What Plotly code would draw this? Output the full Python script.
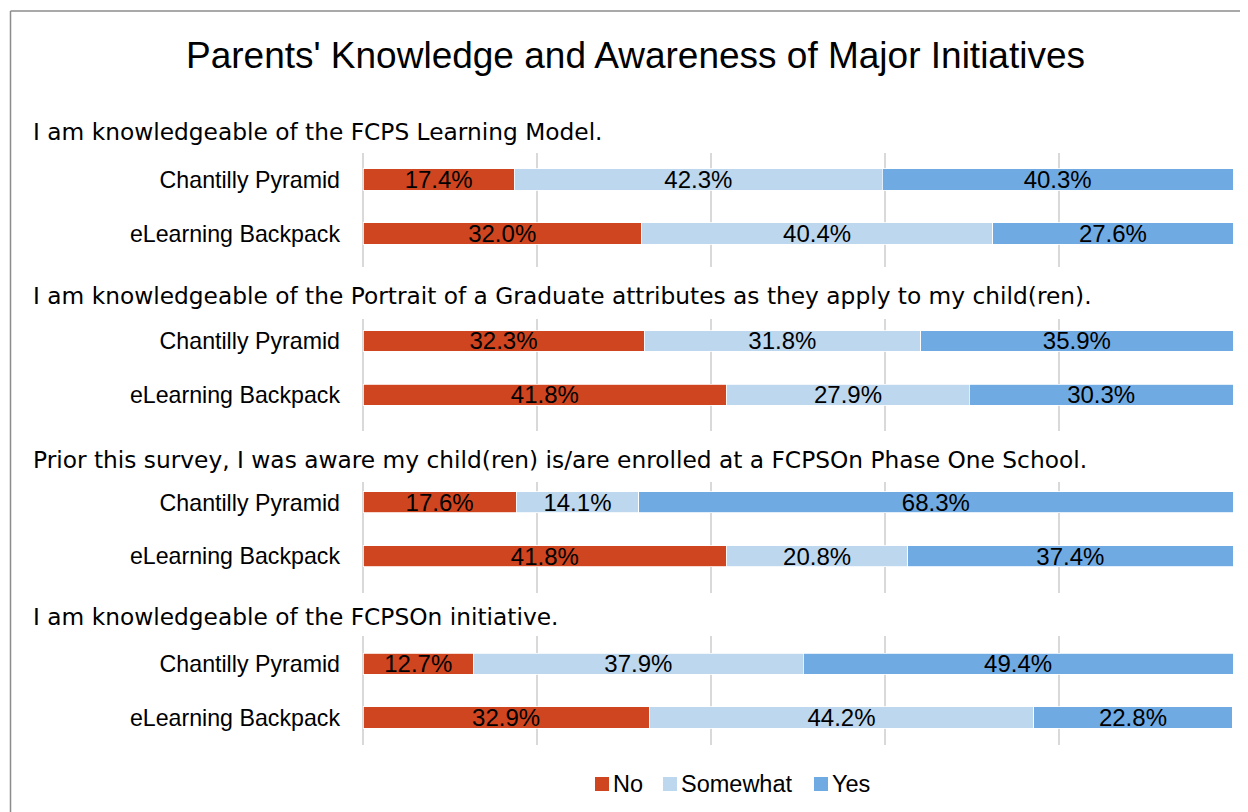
import plotly.graph_objects as go

questions = [
    "I am knowledgeable of the FCPS Learning Model.",
    "I am knowledgeable of the Portrait of a Graduate attributes as they apply to my child(ren).",
    "Prior this survey, I was aware my child(ren) is/are enrolled at a FCPSOn Phase One School.",
    "I am knowledgeable of the FCPSOn initiative.",
]
groups = ["Chantilly Pyramid", "eLearning Backpack"]
series = ["No", "Somewhat", "Yes"]
no_vals = [[17.4, 32.0], [32.3, 41.8], [17.6, 41.8], [12.7, 32.9]]
somewhat_vals = [[42.3, 40.4], [31.8, 27.9], [14.1, 20.8], [37.9, 44.2]]
yes_vals = [[40.3, 27.6], [35.9, 30.3], [68.3, 37.4], [49.4, 22.8]]
colors = ["#CF4520", "#BDD7EE", "#70AAE3"]

OFF = 8                      # page offset of the figure (body margin)
W, H = 1248 - OFF, 812 - OFF
L, R = 363, 1233             # plot area in page pixels


def px(x):
    return (x - L) / (R - L)


def py(y):
    return 1 - (y - OFF) / H


# per-section layout: (grid top px, grid bottom px, y-range top, y-range bottom)
sections = [
    (153, 267, -0.49, 1.62),
    (319, 431, -0.41, 1.68),
    (482, 593, -0.38, 1.68),
    (636, 745, -0.51, 1.51),
]
header_y = [131, 296, 459, 616]
legend_sq_x = [595, 663, 814]

fig = go.Figure()
all_vals = [no_vals, somewhat_vals, yes_vals]
for qi in range(4):
    for si, name in enumerate(series):
        vals = all_vals[si][qi]
        fig.add_trace(go.Bar(
            x=vals,
            y=[0, 1],
            orientation="h",
            name=name,
            showlegend=False,
            marker=dict(color=colors[si], line=dict(color="white", width=0.8)),
            width=0.39,
            text=[f"{v:.1f}%" for v in vals],
            textposition="inside",
            insidetextanchor="middle",
            constraintext="none",
            textangle=0,
            textfont=dict(family="Liberation Sans, Arial", size=24, color="black"),
            xaxis=f"x{qi + 1 if qi else ''}",
            yaxis=f"y{qi + 1 if qi else ''}",
            hoverinfo="skip",
        ))

layout = dict(
    width=W, height=H,
    margin=dict(l=L - OFF, r=1248 - R, t=0, b=0),
    paper_bgcolor="white", plot_bgcolor="white",
    barmode="stack",
    showlegend=False,
    font=dict(family="Liberation Sans, Arial", color="black"),
)
for qi, (gt, gb, rt, rb) in enumerate(sections):
    sfx = str(qi + 1) if qi else ""
    layout["xaxis" + sfx] = dict(
        domain=[0, 1], range=[0, 100], anchor="y" + sfx,
        tickvals=[0, 20, 40, 60, 80, 100], showticklabels=False,
        showgrid=True, gridcolor="#D9D9D9", gridwidth=1.5,
        zeroline=True, zerolinecolor="#D9D9D9", zerolinewidth=1.5,
        showline=False, fixedrange=True,
    )
    layout["yaxis" + sfx] = dict(
        domain=[py(gb), py(gt)], range=[rb, rt], anchor="x" + sfx,
        tickvals=[0, 1], ticktext=groups, ticks="", ticklabelstandoff=22,
        tickfont=dict(family="Liberation Sans, Arial", size=23.2, color="black"),
        showgrid=False, zeroline=False, showline=False, fixedrange=True,
    )
fig.update_layout(**layout)

annotations = [dict(
    text="Parents' Knowledge and Awareness of Major Initiatives",
    x=px(635), y=py(56), xref="paper", yref="paper", xanchor="center", yanchor="middle",
    showarrow=False, font=dict(family="Liberation Sans, Arial", size=37, color="black"),
)]
for qi, q in enumerate(questions):
    annotations.append(dict(
        text=q, x=px(31), y=py(header_y[qi]), xref="paper", yref="paper",
        xanchor="left", yanchor="middle", showarrow=False,
        font=dict(family="DejaVu Sans", size=23.3, color="black"),
    ))

shapes = [
    dict(type="line", xref="paper", yref="paper", x0=px(10.5), x1=px(1260), y0=py(11), y1=py(11),
         line=dict(color="#8C8C8C", width=1.5)),
    dict(type="line", xref="paper", yref="paper", x0=px(10.5), x1=px(10.5), y0=py(11), y1=py(830),
         line=dict(color="#8C8C8C", width=1.5)),
]
# legend: colour squares + labels
for si, name in enumerate(series):
    sx = legend_sq_x[si]
    shapes.append(dict(type="rect", xref="paper", yref="paper",
                       x0=px(sx), x1=px(sx + 14), y0=py(791), y1=py(777),
                       fillcolor=colors[si], line=dict(width=0)))
    annotations.append(dict(
        text=name, x=px(sx + 16), y=py(784), xref="paper", yref="paper",
        xanchor="left", yanchor="middle", showarrow=False,
        font=dict(family="Liberation Sans, Arial", size=23.5, color="black"),
    ))
fig.update_layout(annotations=annotations, shapes=shapes)

fig.write_html("out.html")
